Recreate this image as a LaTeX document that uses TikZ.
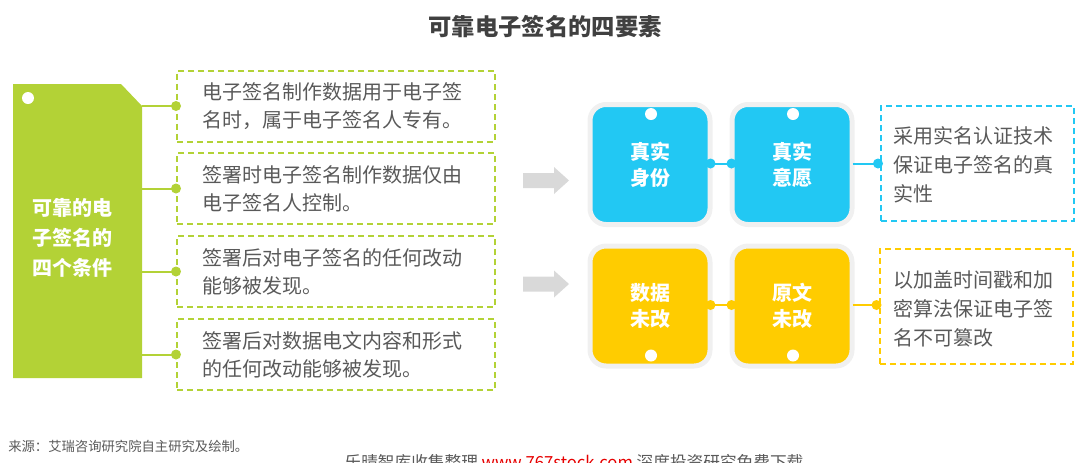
\documentclass[tikz,border=0pt]{standalone}
\usepackage{fontspec}
\setmainfont{Noto Sans CJK SC}
\usetikzlibrary{calc}
\definecolor{lgreen}{RGB}{179,210,54}
\definecolor{cblue}{RGB}{34,200,243}
\definecolor{cyellow}{RGB}{255,204,0}
\definecolor{tgray}{RGB}{89,89,89}
\definecolor{ttitle}{RGB}{64,64,64}
\definecolor{frame}{RGB}{240,240,240}
\definecolor{agray}{RGB}{217,217,217}
\definecolor{wred}{RGB}{230,0,0}
\tikzset{
  dbox/.style={draw=#1, dash pattern=on 4.5pt off 3pt, line width=1.5pt, minimum width=238.5pt, minimum height=53.25pt, inner sep=0pt},
  rbox/.style={draw=#1, dash pattern=on 4.5pt off 3pt, line width=1.5pt, minimum width=144.75pt, minimum height=86.25pt, inner sep=0pt},
  body/.style={text=tgray, font=\fontsize{15}{21}\selectfont, align=left, anchor=west, inner sep=0pt},
  rbody/.style={text=tgray, font=\fontsize{15}{21.75}\selectfont, align=left, anchor=west, inner sep=0pt},
  tile/.style={fill=#1, draw=frame, line width=3.75pt, minimum size=90pt, rounded corners=12pt, inner sep=0pt, text=white, font=\bfseries\fontsize{15}{19.5}\selectfont, align=center},
  gdot/.style={circle, fill=#1, minimum size=7.5pt, inner sep=0pt},
  wdot/.style={circle, fill=white, minimum size=9pt, inner sep=0pt},
  gline/.style={draw=#1, line width=1.5pt},
  blockarrow/.style={fill=agray},
}
\begin{document}
\begin{tikzpicture}[x=0.75pt,y=-0.75pt]
\useasboundingbox (0,0) rectangle (1091,462);
\clip (0,0) rectangle (1091,462);
% title
\node[text=ttitle, font=\bfseries\fontsize{17.5}{20}\selectfont] (title) at (545,27) {可靠电子签名的四要素};
% green box
\fill[lgreen] (13,84) -- (121,84) -- (142,106) -- (142,378) -- (13,378) -- cycle;
\node[wdot] (gwdot) at (28,98) {};
\node[text=white, font=\bfseries\fontsize{15}{22.5}\selectfont, align=center, inner sep=0pt] (gtext) at (72.5,238) {可靠的电\\子签名的\\四个条件};
\coordinate (g1) at (142,106);
\coordinate (g2) at (142,188.5);
\coordinate (g3) at (142,271.5);
\coordinate (g4) at (142,354.5);
% dashed boxes
\node[dbox=lgreen] (b1) at (336,106) {};
\node[dbox=lgreen] (b2) at (336,188.5) {};
\node[dbox=lgreen] (b3) at (336,271.5) {};
\node[dbox=lgreen] (b4) at (336,354.5) {};
\node[body] (t1) at (202,106.5) {电子签名制作数据用于电子签\\名时，属于电子签名人专有。};
\node[body] (t2) at (202,189) {签署时电子签名制作数据仅由\\电子签名人控制。};
\node[body] (t3) at (202,272) {签署后对电子签名的任何改动\\能够被发现。};
\node[body] (t4) at (202,355) {签署后对数据电文内容和形式\\的任何改动能够被发现。};
\foreach \i in {1,2,3,4}{
  \draw[gline=lgreen] (g\i) -- (b\i.west);
  \node[gdot=lgreen] at (b\i.west) {};
}
% arrows
\fill[blockarrow] (523,173) -- (554,173) -- (554,167) -- (569,180.5) -- (554,194) -- (554,188) -- (523,188) -- cycle;
\fill[blockarrow] (523,276.5) -- (554,276.5) -- (554,270.5) -- (569,284) -- (554,297.5) -- (554,291.5) -- (523,291.5) -- cycle;
% blue tiles
\node[tile=cblue] (s1) at (650,164.5) {真实\\身份};
\node[tile=cblue] (s2) at (792,164.5) {真实\\意愿};
\node[wdot] at ($(s1.north)+(1,12)$) {};
\node[wdot] at ($(s2.north)+(1,12)$) {};
\node[rbox=cblue] (rb1) at (977.5,163.5) {};
\node[rbody] (rt1) at (893,165) {采用实名认证技术\\保证电子签名的真\\实性};
\coordinate (c1a) at ($(s1.east)+(-2,-1)$);
\coordinate (c1b) at ($(s2.west)+(2,-1)$);
\coordinate (c1c) at ($(s2.east)+(-2,-1)$);
\coordinate (c1d) at ($(rb1.west |- c1c)+(-2,0)$);
\draw[gline=cblue] (c1a) -- (c1b);
\node[gdot=cblue] at (c1a) {};
\node[gdot=cblue] at (c1b) {};
\draw[gline=cblue] (c1c) -- (c1d);
\node[gdot=cblue] at (c1d) {};
% yellow tiles
\node[tile=cyellow] (y1) at (650,306) {数据\\未改};
\node[tile=cyellow] (y2) at (792,306) {原文\\未改};
\node[wdot] at ($(y1.south)+(1,-13)$) {};
\node[wdot] at ($(y2.south)+(1,-13)$) {};
\node[rbox=cyellow] (rb2) at (976,306.5) {};
\node[rbody] (rt2) at (893,308.5) {以加盖时间戳和加\\密算法保证电子签\\名不可篡改};
\coordinate (c2a) at ($(y1.east)+(-2,-1)$);
\coordinate (c2b) at ($(y2.west)+(2,-1)$);
\coordinate (c2c) at ($(y2.east)+(-2,-1)$);
\coordinate (c2d) at ($(rb2.west |- c2c)+(-2,0)$);
\draw[gline=cyellow] (c2a) -- (c2b);
\node[gdot=cyellow] at (c2a) {};
\node[gdot=cyellow] at (c2b) {};
\draw[gline=cyellow] (c2c) -- (c2d);
\node[gdot=cyellow] at (c2d) {};
% footer
\node[text=tgray, font=\fontsize{10}{12}\selectfont, anchor=west, inner sep=0pt] (src) at (8,446) {来源：艾瑞咨询研究院自主研究及绘制。};
\node[text=tgray, font=\fontsize{12.5}{14}\selectfont, inner sep=0pt] (wm) at (574,462) {乐晴智库收集整理 \textcolor{wred}{www.767stock.com} 深度投资研究免费下载};
\end{tikzpicture}
\end{document}
